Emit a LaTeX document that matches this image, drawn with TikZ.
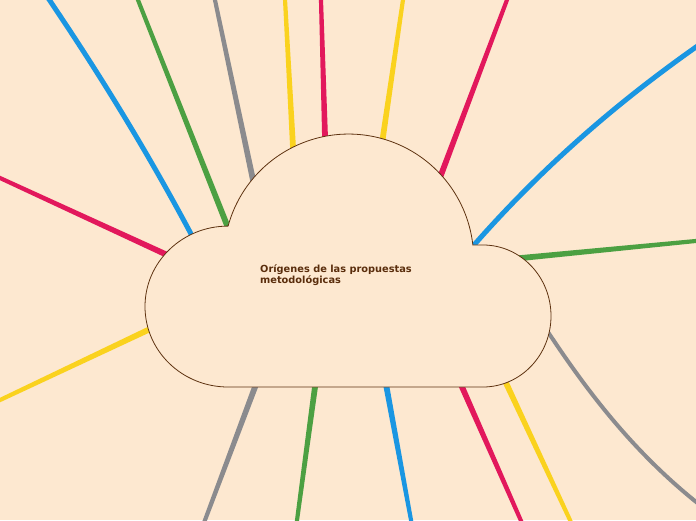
\documentclass[tikz,border=0pt]{standalone}
\usepackage{fontspec}
\usetikzlibrary{calc}
\newfontfamily\dejavu{DejaVu Sans}
\definecolor{bg}{HTML}{FDE8D0}
\definecolor{cblue}{HTML}{1A96E2}
\definecolor{cgreen}{HTML}{4CA042}
\definecolor{cgray}{HTML}{8B8B8E}
\definecolor{cyellow}{HTML}{FAD21E}
\definecolor{cred}{HTML}{E2185C}
\definecolor{brownline}{HTML}{5E3210}
\definecolor{browntext}{HTML}{5A2D0C}
\tikzset{
  branch/.style={line width=5pt},
  thinbranch/.style={line width=4pt},
  cloudshape/.style={fill=bg, draw=brownline, line width=0.8pt},
  title/.style={font=\dejavu\bfseries\fontsize{9.8}{11.5}\selectfont, text=browntext, align=left, anchor=base west, inner sep=0pt}
}
% tapered straight branch: from #1 (inside the cloud) to #2 (outside), colour #3
\newcommand\taperline[3]{\fill[#3] ($(#1)!3pt!90:(#2)$) -- ($(#2)!2pt!-90:(#1)$) -- ($(#2)!2pt!90:(#1)$) -- ($(#1)!3pt!-90:(#2)$) -- cycle;}
\begin{document}
\begin{tikzpicture}[x=1pt,y=1pt]
\useasboundingbox (0,0) rectangle (696,520);
\fill[bg] (0,0) rectangle (696,520);
\clip (0,0) rectangle (696,520);
% inner (hidden) ends and outer ends
\coordinate (i1) at (196.3,274.4);  \coordinate (b1) at (190,288);  \coordinate (o1) at (44,528);
\coordinate (i2) at (232.5,281);    \coordinate (o2) at (134.3,529.3);
\coordinate (i3) at (256.1,325.3);  \coordinate (o3) at (212.9,529.8);
\coordinate (i4) at (293.8,358);    \coordinate (o4) at (284.5,530);
\coordinate (i5) at (325.4,370);    \coordinate (o5) at (320.7,530);
\coordinate (i6) at (380.8,368.2);  \coordinate (o6) at (404.4,529.9);
\coordinate (i7) at (435.7,331);    \coordinate (o7) at (510.5,529.4);
\coordinate (i8) at (464.1,263.7);  \coordinate (b8) at (474,275);  \coordinate (o8) at (704.2,478.7);
\coordinate (i9) at (506,260.5);    \coordinate (o9) at (706,280);
\coordinate (i10) at (541.7,197.5); \coordinate (b10) at (550,185); \coordinate (o10) at (703.9,11.9);
\coordinate (i11) at (499.7,150.6); \coordinate (o11) at (574.2,-9.1);
\coordinate (i12) at (456,146.7);   \coordinate (o12) at (524.7,-9.2);
\coordinate (i13) at (383.8,147.7); \coordinate (o13) at (412.8,-9.8);
\coordinate (i14) at (317,147.9);   \coordinate (o14) at (295.7,-9.9);
\coordinate (i15) at (260.3,147);   \coordinate (o15) at (201.5,-9.4);
\coordinate (i16) at (161.6,196.4); \coordinate (o16) at (-9,115.7);
\coordinate (i17) at (176.6,260.7); \coordinate (o17) at (-9.1,346.2);
% curved branches
\draw[branch, cblue] (i1) -- (b1) .. controls (148.7,365.3) and (102,442.7) .. (o1);
\draw[branch, cblue] (i8) -- (b8) .. controls (540,350) and (614,416) .. (o8);
\draw[thinbranch, cgray] (i10) -- (b10) .. controls (591,123.4) and (637.6,63.4) .. (o10);
% straight branches
\taperline{i2}{o2}{cgreen}
\taperline{i3}{o3}{cgray}
\taperline{i4}{o4}{cyellow}
\taperline{i5}{o5}{cred}
\taperline{i6}{o6}{cyellow}
\taperline{i7}{o7}{cred}
\taperline{i9}{o9}{cgreen}
\taperline{i11}{o11}{cyellow}
\taperline{i12}{o12}{cred}
\taperline{i13}{o13}{cblue}
\taperline{i14}{o14}{cgreen}
\taperline{i15}{o15}{cgray}
\taperline{i16}{o16}{cyellow}
\taperline{i17}{o17}{cred}
% cloud
\draw[cloudshape] (228.1,293.9) arc[start angle=164.7, end angle=6.5, radius=125]
  -- (483,275) arc[start angle=90, end angle=-90, x radius=68, y radius=71]
  -- (228,133) arc[start angle=270, end angle=90, x radius=83, y radius=80.45]
  -- cycle;
\node[title] (root) at (260,236.5) {Orígenes de las propuestas\\metodológicas};
\end{tikzpicture}
\end{document}
